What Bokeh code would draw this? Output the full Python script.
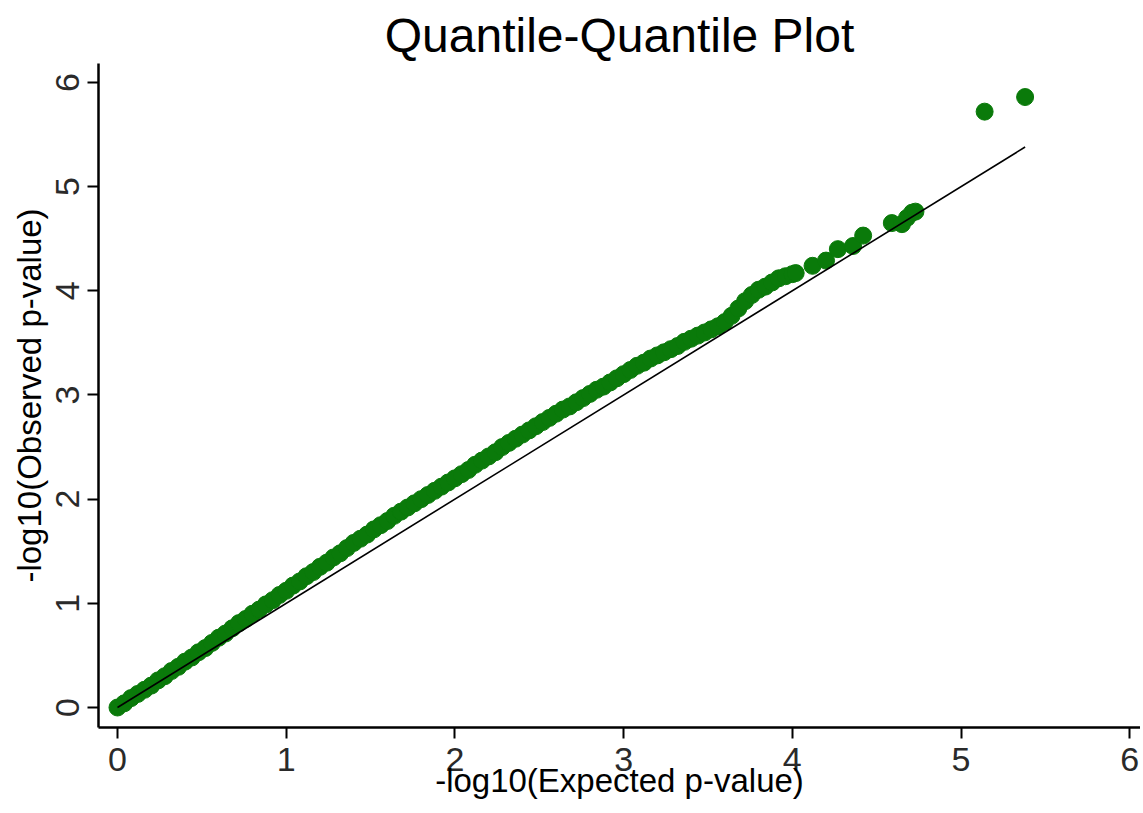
import math
from bokeh.plotting import figure
from bokeh.models import ColumnDataSource, FixedTicker, Range1d
from bokeh.embed import file_html
from bokeh.resources import INLINE

# ---- data ----
expected = [
    0.00, 0.04, 0.08, 0.12, 0.16, 0.20, 0.24, 0.28, 0.32, 0.36,
    0.40, 0.44, 0.48, 0.52, 0.56, 0.60, 0.64, 0.68, 0.72, 0.76,
    0.80, 0.84, 0.88, 0.92, 0.96, 1.00, 1.04, 1.08, 1.12, 1.16,
    1.20, 1.24, 1.28, 1.32, 1.36, 1.40, 1.44, 1.48, 1.52, 1.56,
    1.60, 1.64, 1.68, 1.72, 1.76, 1.80, 1.84, 1.88, 1.92, 1.96,
    2.00, 2.04, 2.08, 2.12, 2.16, 2.20, 2.24, 2.28, 2.32, 2.36,
    2.40, 2.44, 2.48, 2.52, 2.56, 2.60, 2.64, 2.68, 2.72, 2.76,
    2.80, 2.84, 2.88, 2.92, 2.96, 3.00, 3.04, 3.08, 3.12, 3.16,
    3.20, 3.24, 3.28, 3.32, 3.36, 3.40, 3.44, 3.48, 3.52, 3.56,
    3.60, 3.64, 3.68, 3.72, 3.76, 3.80, 3.84, 3.88, 3.92, 3.96,
    4.00, 4.02, 4.12, 4.20, 4.27, 4.36, 4.42, 4.59, 4.65, 4.68,
    4.71, 4.73, 5.14, 5.38,
]
observed = [
    0.00, 0.04, 0.09, 0.13, 0.17, 0.21, 0.26, 0.30, 0.35, 0.39,
    0.44, 0.48, 0.53, 0.57, 0.62, 0.67, 0.71, 0.76, 0.81, 0.85,
    0.90, 0.94, 0.99, 1.03, 1.08, 1.12, 1.17, 1.21, 1.26, 1.30,
    1.35, 1.39, 1.44, 1.48, 1.53, 1.58, 1.62, 1.66, 1.71, 1.75,
    1.79, 1.84, 1.88, 1.92, 1.96, 2.00, 2.04, 2.08, 2.12, 2.16,
    2.20, 2.24, 2.28, 2.33, 2.37, 2.41, 2.45, 2.50, 2.54, 2.58,
    2.62, 2.66, 2.70, 2.74, 2.78, 2.82, 2.86, 2.89, 2.93, 2.97,
    3.01, 3.05, 3.08, 3.12, 3.16, 3.20, 3.24, 3.28, 3.31, 3.35,
    3.38, 3.41, 3.44, 3.47, 3.51, 3.54, 3.57, 3.60, 3.63, 3.66,
    3.70, 3.76, 3.83, 3.90, 3.96, 4.01, 4.04, 4.08, 4.12, 4.14,
    4.16, 4.17, 4.24, 4.29, 4.40, 4.43, 4.53, 4.65, 4.64, 4.70,
    4.75, 4.76, 5.72, 5.86,
]
tick_values = [0, 1, 2, 3, 4, 5, 6]
title_text = "Quantile-Quantile Plot"
x_title = "-log10(Expected p-value)"
y_title = "-log10(Observed p-value)"

FONT = "Liberation Sans"

p = figure(
    width=1140, height=812,
    x_range=Range1d(-0.1126, 6.064), y_range=Range1d(-0.192, 6.182),
    output_backend="svg", toolbar_location=None,
    min_border_left=98, min_border_right=0,
    min_border_top=63, min_border_bottom=85,
    title=title_text,
)
p.title.text_font = FONT
p.title.text_font_size = "48px"
p.title.text_font_style = "normal"
p.title.text_color = "black"
p.title.align = "center"
p.title.standoff = 3

p.outline_line_color = None
p.grid.visible = False
p.background_fill_color = "white"
p.border_fill_color = "white"

for ax in (p.xaxis[0], p.yaxis[0]):
    ax.ticker = FixedTicker(ticks=tick_values)
    ax.axis_line_width = 2.5
    ax.axis_line_color = "black"
    ax.major_tick_line_width = 2
    ax.major_tick_line_color = "black"
    ax.major_tick_out = 11
    ax.major_tick_in = 0
    ax.minor_tick_line_color = None
    ax.major_label_text_font = FONT
    ax.major_label_text_font_size = "34px"
    ax.major_label_text_color = "#2a2a2a"
    ax.axis_label_text_font = FONT
    ax.axis_label_text_font_size = "33px"
    ax.axis_label_text_font_style = "normal"
    ax.axis_label_text_color = "black"

p.xaxis.major_label_standoff = 9
p.yaxis.major_label_standoff = 8
p.yaxis.major_label_orientation = "vertical"
p.xaxis.axis_label = x_title
p.yaxis.axis_label = y_title
p.xaxis.axis_label_standoff = -12
p.yaxis.axis_label_standoff = 6

src = ColumnDataSource(dict(x=expected, y=observed))
p.scatter("x", "y", source=src, size=17, marker="circle",
          fill_color="#0a7a0a", line_color="#0a7a0a")

top = max(expected)
p.line([0, top], [0, top], line_color="black", line_width=1.6)

open("out.html", "w").write(file_html(p, INLINE))
